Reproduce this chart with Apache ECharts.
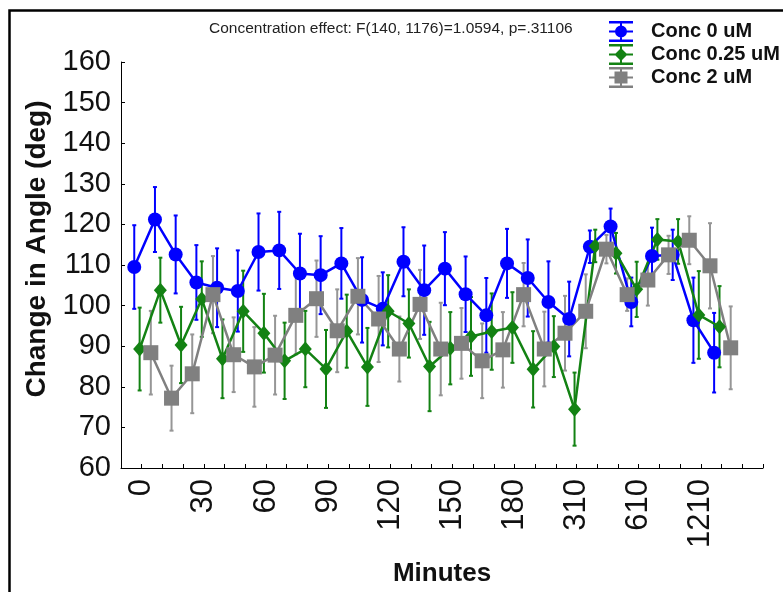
<!DOCTYPE html>
<html>
<head>
<meta charset="utf-8">
<script src="https://cdn.jsdelivr.net/npm/echarts@6/dist/echarts.min.js"></script>
<style>html,body{margin:0;padding:0;background:#fff}#c{width:783px;height:592px}</style>
</head>
<body>
<div id="c"></div>
<script>
// Category labels (minutes); only every third is printed on the axis
const minutes = ['0','10','20','30','40','50','60','70','80','90','100','110','120','130','140','150','160','170','180','210','250','310','410','510','610','810','1010','1210','1410','1610'];
const seriesNames = ['Conc 0 uM', 'Conc 0.25 uM', 'Conc 2 uM'];
const yTicks = [60, 70, 80, 90, 100, 110, 120, 130, 140, 150, 160];

// Means and error half-widths
const conc0Mean = [109.5,121.2,112.6,105.7,104.4,103.6,113.2,113.6,107.9,107.5,110.4,101.4,99.2,110.8,103.8,109.1,102.8,97.6,110.4,106.8,100.9,96.7,114.5,119.5,100.9,112.2,112.5,96.4,88.4];
const conc0Err  = [10.3,8,9.6,9.2,9.7,10,9.5,9.5,9.8,9.6,8.7,10.5,9,8.5,11,9,9.3,9.2,8.5,9.5,10,9.2,4,4.4,6,7,6.2,10.5,9.8];
const conc025Mean = [89.3,103.8,90.3,101.6,86.9,98.6,93.2,86.4,89.3,84.4,93.7,84.9,98.6,95.6,85,89.5,92.4,93.6,94.6,84.3,89.9,74.5,114.7,112.9,104,116.3,115.8,97.7,94.8];
const conc025Err  = [10.2,8,9.4,9.3,9.7,10,9.7,9.4,9.4,9.6,9,9.6,8.9,8.4,11,8.9,9.7,9.4,8.7,9.4,7.5,9,4,5,6.8,5,5.5,10.8,10];
const conc2Mean = [88.4,77.2,83.2,102.7,87.9,84.9,87.8,97.6,101.7,93.8,102.3,96.7,89.3,100.3,89.3,90.7,86.4,89.1,102.7,89.3,93.2,98.6,113.9,102.7,106.3,112.5,116.1,109.8,89.6];
const conc2Err  = [10.3,8,9.7,9.5,9.2,9.8,9.7,9.6,9.4,10.2,9.4,10.6,8,8.5,11.4,8.7,9.2,9.3,7.8,9.2,9.2,9.1,3.5,4,6.3,4.7,5.9,10.5,10.2];

const colors = ['#0000ff', '#138213', '#808080'];
const errColors = ['#0000ff', '#138213', '#969696'];
const means = [conc0Mean, conc025Mean, conc2Mean];
const errs = [conc0Err, conc025Err, conc2Err];
const symbols = ['circle', 'diamond', 'rect'];
const symbolSizes = [14, [13, 15], 15];
// small horizontal dodge per group (in category units)
const dodge = [-0.36, -0.1, 0.44];

const legendIcons = [
  'path://M0 0H24V2.5H0ZM0 18.5H24V21H0ZM0 9.5H24V11.5H0ZM11 0H13V21H11ZM6 10.5A6 6 0 1 1 18 10.5A6 6 0 1 1 6 10.5Z',
  'path://M0 0H24V2.5H0ZM0 18.5H24V21H0ZM0 9.5H24V11.5H0ZM11 0H13V21H11ZM12 4L18.5 10.5L12 17L5.5 10.5Z',
  'path://M0 0H24V2.5H0ZM0 18.5H24V21H0ZM0 9.5H24V11.5H0ZM11 0H13V21H11ZM5.5 4.5H18.5V16.5H5.5Z'
];

const font = "'Liberation Sans', Arial, sans-serif";
const nCat = minutes.length + 1;

const xAxes = [{
  type: 'value', min: 0, max: nCat, interval: 1, gridIndex: 0,
  name: 'Minutes', nameLocation: 'middle', nameGap: 93,
  nameTextStyle: { fontFamily: font, fontSize: 26, fontWeight: 'bold', color: '#111' },
  axisLine: { show: true, onZero: false, lineStyle: { color: '#000', width: 1 } },
  axisTick: { show: true, inside: true, length: 4, lineStyle: { color: '#000' } },
  splitLine: { show: false },
  axisLabel: {
    rotate: 90, margin: 11, fontFamily: font, fontSize: 31, color: '#111',
    showMinLabel: true, showMaxLabel: true, hideOverlap: false,
    formatter: function (v) {
      const k = Math.round(v);
      if (k < 1 || k > minutes.length) return '';
      return (k - 1) % 3 === 0 ? minutes[k - 1] : '';
    }
  }
}];
dodge.forEach(function (d) {
  xAxes.push({ type: 'value', min: -d, max: nCat - d, show: false, gridIndex: 0 });
});

const series = [];
seriesNames.forEach(function (name, i) {
  series.push({
    type: 'custom', name: name + ' err', xAxisIndex: i + 1, silent: true,
    data: means[i].map(function (m, j) { return [j + 1, m - errs[i][j], m + errs[i][j]]; }),
    encode: { x: 0, y: [1, 2] },
    renderItem: function (params, api) {
      const x = api.value(0);
      const lo = api.coord([x, api.value(1)]);
      const hi = api.coord([x, api.value(2)]);
      const st = { stroke: errColors[i], lineWidth: 2 };
      return {
        type: 'group',
        children: [
          { type: 'line', shape: { x1: lo[0], y1: lo[1], x2: hi[0], y2: hi[1] }, style: st },
          { type: 'line', shape: { x1: lo[0] - 2, y1: lo[1], x2: lo[0] + 2, y2: lo[1] }, style: st },
          { type: 'line', shape: { x1: hi[0] - 2, y1: hi[1], x2: hi[0] + 2, y2: hi[1] }, style: st }
        ]
      };
    }
  });
  series.push({
    type: 'line', name: name, xAxisIndex: i + 1,
    data: means[i].map(function (m, j) { return [j + 1, m]; }),
    symbol: symbols[i], symbolSize: symbolSizes[i], showAllSymbol: true,
    lineStyle: { color: colors[i], width: 2.5 },
    itemStyle: { color: colors[i] },
    emphasis: { disabled: true }
  });
});

const chart = echarts.init(document.getElementById('c'), null, { renderer: 'canvas' });
chart.setOption({
  animation: false,
  backgroundColor: '#fff',
  grid: { left: 121, right: 20, top: 62, bottom: 122, containLabel: false },
  xAxis: xAxes,
  yAxis: {
    type: 'value', min: yTicks[0], max: yTicks[yTicks.length - 1], interval: 10,
    name: 'Change in Angle (deg)', nameLocation: 'middle', nameGap: 68, nameRotate: 90,
    nameTextStyle: { fontFamily: font, fontSize: 28, fontWeight: 'bold', color: '#111', padding: [0, 0, 0, 32] },
    axisLine: { show: true, lineStyle: { color: '#000', width: 1 } },
    axisTick: { show: true, inside: true, length: 4, lineStyle: { color: '#000' } },
    splitLine: { show: false },
    axisLabel: { margin: 10, fontFamily: font, fontSize: 29, color: '#111' }
  },
  legend: {
    orient: 'vertical', left: 609, top: 20, padding: 0, itemGap: 0, itemWidth: 24, itemHeight: 21,
    selectedMode: false,
    data: seriesNames.map(function (n, i) { return { name: n, icon: legendIcons[i], itemStyle: { color: colors[i] } }; }),
    textStyle: { fontFamily: font, fontSize: 20, fontWeight: 'bold', color: '#111', lineHeight: 23, padding: [0, 0, 0, 13] }
  },
  graphic: [
    { type: 'rect', left: 7, top: 8, shape: { width: 800, height: 620 }, style: { fill: 'none', stroke: '#000', lineWidth: 2.5 }, silent: true },
    { type: 'text', left: 209, top: 21, style: { text: 'Concentration effect: F(140, 1176)=1.0594, p=.31106', font: '15.5px ' + font, fill: '#222' } }
  ],
  series: series
});
</script>
</body>
</html>
